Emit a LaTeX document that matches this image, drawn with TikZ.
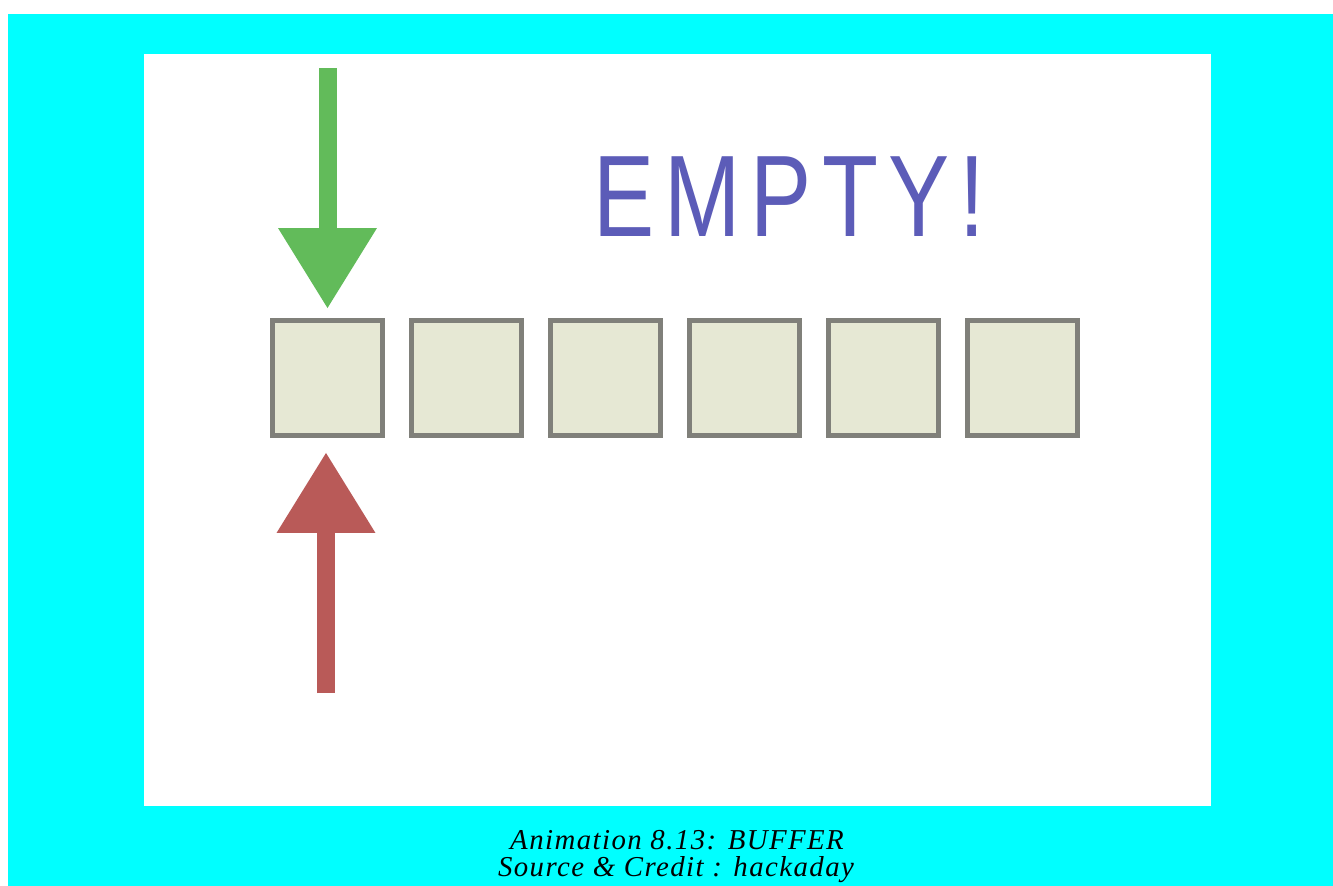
\documentclass[tikz,border=0pt]{standalone}
\usepackage{fontspec}
\usetikzlibrary{arrows.meta,positioning}
\newfontfamily\emptyfont[LetterSpace=11]{Liberation Sans}
\newfontfamily\capfont[LetterSpace=5]{Liberation Serif}
\definecolor{bgcyan}{RGB}{0,255,255}
\definecolor{pushgreen}{RGB}{98,187,90}
\definecolor{popred}{RGB}{185,90,88}
\definecolor{msgpurple}{RGB}{92,92,184}
\definecolor{cellgray}{RGB}{128,128,122}
\definecolor{cellfill}{RGB}{230,232,212}
\tikzset{
  cell/.style={draw=cellgray, fill=cellfill, line width=0.1cm,
    minimum width=2.2cm, minimum height=2.3cm, inner sep=0pt},
  bigarrow/.style={line width=0.36cm,
    -{Triangle[length=1.6cm,width=1.98cm,line width=0pt]}}
}
\begin{document}
\begin{tikzpicture}[x=0.02cm, y=-0.02cm, node distance=2.78cm]
  \useasboundingbox (0,0) rectangle (1333,886);
  \fill[white] (0,0) rectangle (1333,886);
  \fill[bgcyan] (8,14) rectangle (1333,886);
  \fill[white] (144,54) rectangle (1211,806);
  % buffer cells
  \node (c1) [cell] at (327.5,378) {};
  \node (c2) [cell, right of=c1] {};
  \node (c3) [cell, right of=c2] {};
  \node (c4) [cell, right of=c3] {};
  \node (c5) [cell, right of=c4] {};
  \node (c6) [cell, right of=c5] {};
  % write and read pointers
  \coordinate (wr) at (327.5,68);
  \coordinate (rd) at (326,693);
  \draw[bigarrow, pushgreen, shorten >=0.2cm] (wr) -- (wr |- c1.north);
  \draw[bigarrow, popred, shorten >=0.3cm] (rd) -- (rd |- c1.south);
  \node (msg) [anchor=base, text=msgpurple, xscale=0.79,
    font=\emptyfont\fontsize{66}{66}\selectfont] at (789,236) {EMPTY!};
  % caption
  \node (cap1) [anchor=base, font=\capfont\itshape\fontsize{16.4}{16}\selectfont]
    at (677,849) {Animation 8.13: BUFFER};
  \node (cap2) [anchor=base, font=\capfont\itshape\fontsize{16.4}{16}\selectfont]
    at (676,876) {Source \& Credit : hackaday};
\end{tikzpicture}
\end{document}
